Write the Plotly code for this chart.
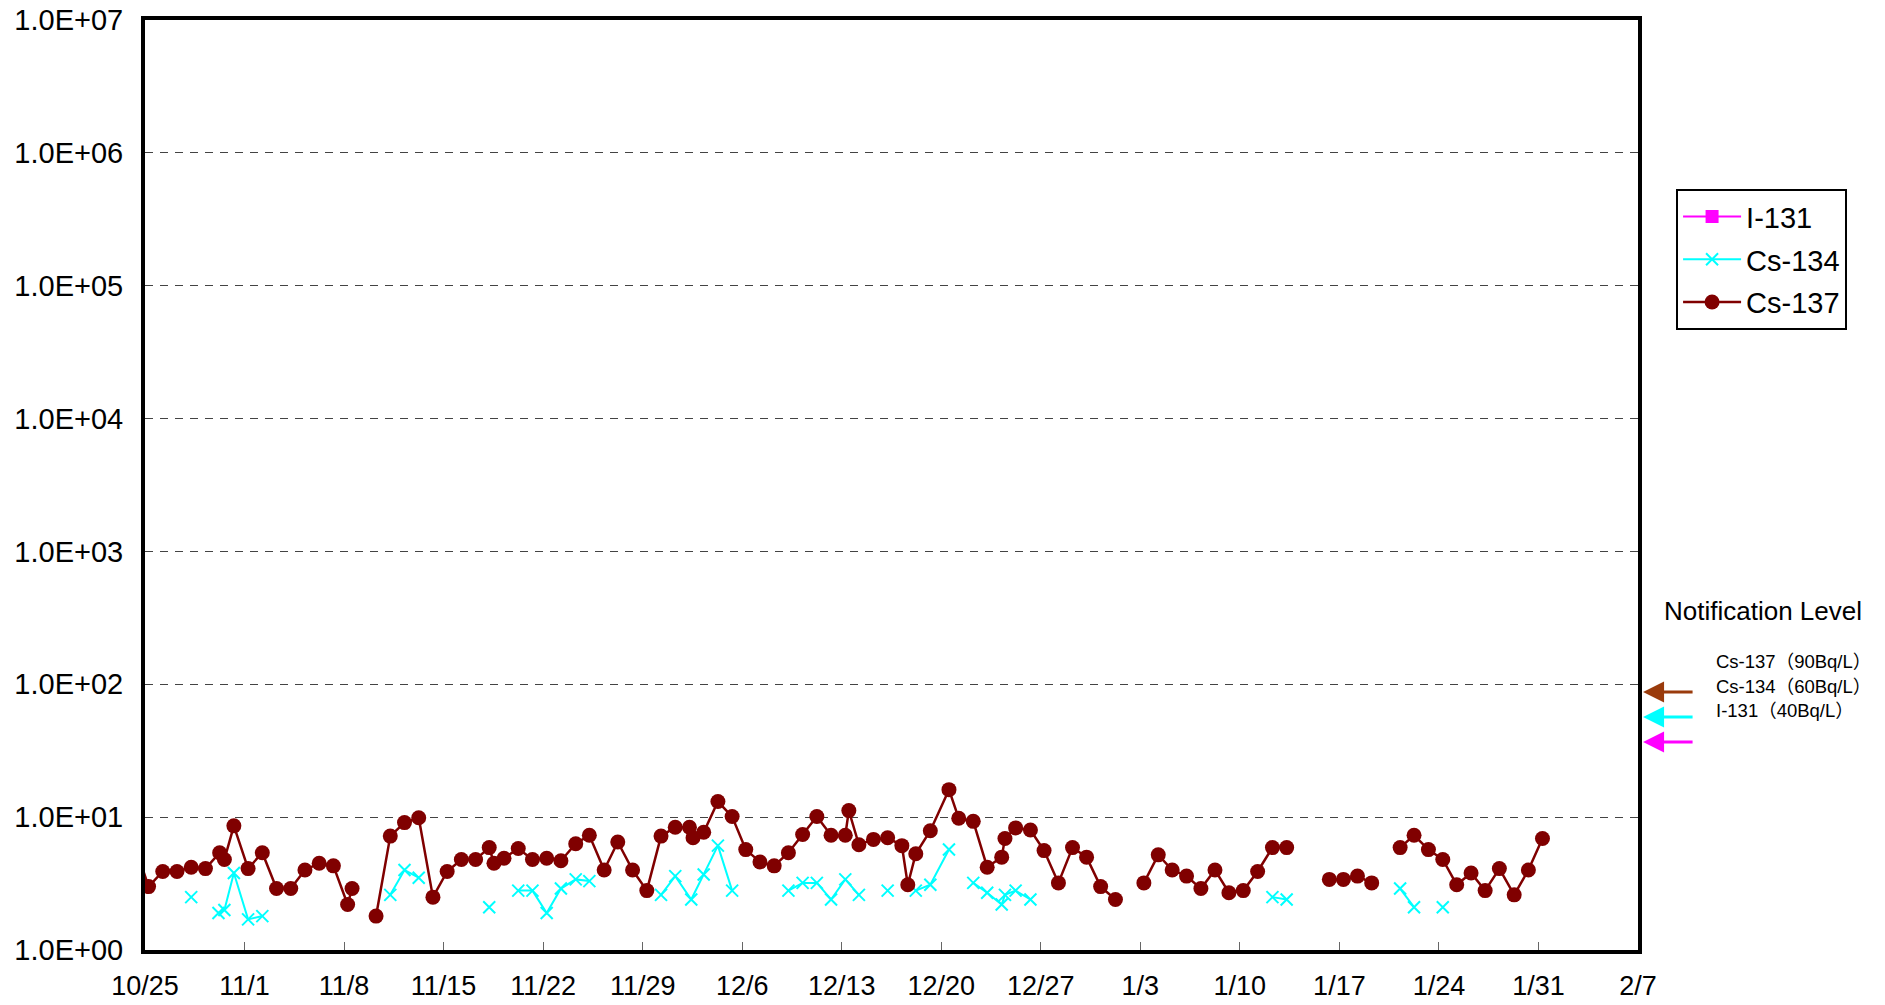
import plotly.graph_objects as go

# ---- data ----
cs137_dates = [
    "2013-10-24 06:00", "2013-10-25 06:00", "2013-10-26 06:00", "2013-10-27 06:00", "2013-10-28 06:00",
    "2013-10-29 06:00", "2013-10-30 06:00", "2013-10-30 14:00", "2013-10-31 06:00", "2013-11-01 06:00",
    "2013-11-02 06:00", "2013-11-03 06:00", "2013-11-04 06:00", "2013-11-05 06:00", "2013-11-06 06:00",
    "2013-11-07 06:00", "2013-11-08 06:00", "2013-11-08 13:30", "2013-11-09 06:00", "2013-11-10 06:00",
    "2013-11-11 06:00", "2013-11-12 06:00", "2013-11-13 06:00", "2013-11-14 06:00", "2013-11-15 06:00",
    "2013-11-16 06:00", "2013-11-17 06:00", "2013-11-18 05:00", "2013-11-18 13:00", "2013-11-19 06:00",
    "2013-11-20 06:00", "2013-11-21 06:00", "2013-11-22 06:00", "2013-11-23 06:00", "2013-11-24 07:00",
    "2013-11-25 06:00", "2013-11-26 07:00", "2013-11-27 06:00", "2013-11-28 07:00", "2013-11-29 07:00",
    "2013-11-30 07:00", "2013-12-01 07:00", "2013-12-02 07:00", "2013-12-02 13:00", "2013-12-03 07:00",
    "2013-12-04 07:00", "2013-12-05 07:00", "2013-12-06 06:00", "2013-12-07 06:00", "2013-12-08 06:00",
    "2013-12-09 06:00", "2013-12-10 06:00", "2013-12-11 06:00", "2013-12-12 06:00", "2013-12-13 06:00",
    "2013-12-13 12:00", "2013-12-14 05:00", "2013-12-15 05:30", "2013-12-16 05:30", "2013-12-17 05:30",
    "2013-12-17 15:30", "2013-12-18 05:00", "2013-12-19 05:30", "2013-12-20 13:00", "2013-12-21 05:30",
    "2013-12-22 06:00", "2013-12-23 05:30", "2013-12-24 06:00", "2013-12-24 11:30", "2013-12-25 05:30",
    "2013-12-26 06:30", "2013-12-27 05:30", "2013-12-28 05:45", "2013-12-29 05:30", "2013-12-30 05:15",
    "2013-12-31 05:00", "2014-01-01 06:00", "2014-01-02 06:00", "2014-01-03 06:00", "2014-01-04 06:15",
    "2014-01-05 05:45", "2014-01-06 06:00", "2014-01-07 06:15", "2014-01-08 06:00", "2014-01-09 05:30",
    "2014-01-10 05:45", "2014-01-11 06:00", "2014-01-12 07:00", "2014-01-13 07:00", "2014-01-14 06:00",
    "2014-01-16 07:00", "2014-01-17 06:45", "2014-01-18 06:30", "2014-01-19 06:30", "2014-01-20 06:00",
    "2014-01-21 06:30", "2014-01-22 06:00", "2014-01-23 06:15", "2014-01-24 06:30", "2014-01-25 06:00",
    "2014-01-26 06:15", "2014-01-27 06:00", "2014-01-28 06:00", "2014-01-29 07:00", "2014-01-30 07:00",
    "2014-01-31 06:45",
]
cs137_values = [
    6.3, 3.0, 3.9, 3.9, 4.2,
    4.1, 5.4, 4.8, 8.6, 4.1,
    5.4, 2.9, 2.9, 4.0, 4.5,
    4.3, 2.2, 2.9, None, 1.8,
    7.2, 9.1, 9.9, 2.5, 3.9,
    4.8, 4.8, 5.9, 4.5, 4.9,
    5.8, 4.8, 4.9, 4.7, 6.3,
    7.3, 4.0, 6.5, 4.0, 2.8,
    7.2, 8.4, 8.4, 7.0, 7.7,
    13.1, 10.1, 5.7, 4.6, 4.3,
    5.4, 7.4, 10.1, 7.3, 7.3,
    11.2, 6.2, 6.8, 7.0, 6.1,
    3.1, 5.3, 7.9, 16.1, 9.8,
    9.3, 4.2, 5.0, 6.9, 8.3,
    8.0, 5.6, 3.2, 5.9, 5.0,
    3.0, 2.4, None, 3.2, 5.2,
    4.0, 3.6, 2.9, 4.0, 2.7,
    2.8, 3.9, 5.9, 5.9, None,
    3.4, 3.4, 3.6, 3.2, None,
    5.9, 7.3, 5.7, 4.8, 3.1,
    3.8, 2.8, 4.1, 2.6, 4.0,
    6.9,
]

cs134_dates = [
    "2013-10-28 06:00", "2013-10-29 06:00",
    "2013-10-30 04:00", "2013-10-30 14:00", "2013-10-31 06:00", "2013-11-01 06:00", "2013-11-02 06:00", "2013-11-03 06:00",
    "2013-11-11 06:00", "2013-11-12 06:00", "2013-11-13 06:00", "2013-11-14 06:00",
    "2013-11-18 05:00", "2013-11-19 06:00",
    "2013-11-20 06:00", "2013-11-21 06:00", "2013-11-22 06:00", "2013-11-23 06:00", "2013-11-24 07:00", "2013-11-25 06:00", "2013-11-26 06:00",
    "2013-11-30 07:00", "2013-12-01 07:00", "2013-12-02 10:00", "2013-12-03 07:00", "2013-12-04 07:00", "2013-12-05 07:00", "2013-12-06 06:00",
    "2013-12-09 06:00", "2013-12-10 06:00", "2013-12-11 06:00", "2013-12-12 06:00", "2013-12-13 06:00", "2013-12-14 05:00", "2013-12-15 06:00",
    "2013-12-16 05:30", "2013-12-17 06:00",
    "2013-12-18 05:00", "2013-12-19 05:30", "2013-12-20 13:00", "2013-12-21 06:00",
    "2013-12-22 06:00", "2013-12-23 05:30", "2013-12-24 06:00", "2013-12-24 11:30", "2013-12-25 05:30", "2013-12-26 06:30", "2013-12-27 06:00",
    "2014-01-12 07:00", "2014-01-13 07:00", "2014-01-14 06:00",
    "2014-01-21 06:30", "2014-01-22 06:00", "2014-01-23 06:00",
    "2014-01-24 06:30",
]
cs134_values = [
    2.5, None,
    1.9, 2.0, 3.8, 1.7, 1.8, None,
    2.6, 4.0, 3.5, None,
    2.1, None,
    2.8, 2.8, 1.9, 2.9, 3.4, 3.3, None,
    2.6, 3.6, 2.4, 3.7, 6.1, 2.8, None,
    2.8, 3.2, 3.2, 2.4, 3.4, 2.6, None,
    2.8, None,
    2.8, 3.1, 5.7, None,
    3.2, 2.7, 2.2, 2.6, 2.8, 2.4, None,
    2.5, 2.4, None,
    2.9, 2.1, None,
    2.1,
]

i131_dates = ["2013-10-25 06:00"]
i131_values = [None]  # all below detection limit

level_labels = ["Cs-137（90Bq/L）", "Cs-134（60Bq/L）", "I-131（40Bq/L）"]
level_colors = ["#9A3B0C", "#00FFFF", "#FF00FF"]

y_tick_vals = [1, 10, 100, 1000, 10000, 100000, 1000000, 10000000]
y_tick_text = ["1.0E+00", "1.0E+01", "1.0E+02", "1.0E+03", "1.0E+04", "1.0E+05", "1.0E+06", "1.0E+07"]

FONT = "Liberation Sans, Arial, Noto Sans CJK JP, sans-serif"

fig = go.Figure()
fig.add_trace(go.Scatter(
    x=i131_dates, y=i131_values, name="I-131", mode="lines+markers",
    line=dict(color="#FF00FF", width=2),
    marker=dict(symbol="square", size=13, color="#FF00FF"),
    legendgroup="a",
))
fig.add_trace(go.Scatter(
    x=cs134_dates, y=cs134_values, name="Cs-134", mode="lines+markers",
    line=dict(color="#00FFFF", width=2),
    marker=dict(symbol="x-thin", size=12, line=dict(color="#00FFFF", width=2)),
    connectgaps=False, legendgroup="b",
))
fig.add_trace(go.Scatter(
    x=cs137_dates, y=cs137_values, name="Cs-137", mode="lines+markers",
    line=dict(color="#800000", width=2.5),
    marker=dict(symbol="circle", size=15, color="#800000"),
    connectgaps=False, legendgroup="c",
))

# the page body has an 8px margin, so the figure sits at (8, 8)
fig.update_layout(
    width=1885, height=1005,
    margin=dict(l=137, r=255, t=12, b=63, autoexpand=False),
    paper_bgcolor="white", plot_bgcolor="white",
    font=dict(family=FONT, color="black"),
    showlegend=True,
    legend=dict(
        x=1.0255, y=0.818, xanchor="left", yanchor="top",
        bordercolor="black", borderwidth=2, bgcolor="white",
        font=dict(size=29, family=FONT), tracegroupgap=2, itemwidth=58,
    ),
)
fig.update_xaxes(
    type="date", automargin=False, ticklabeloverflow="allow",
    range=["2013-10-25", "2014-02-07"],
    tick0="2013-10-25", dtick=7 * 86400000, tickformat="%-m/%-d",
    ticks="inside", ticklen=8, tickcolor="#666666", tickwidth=1,
    showgrid=False, zeroline=False,
    showline=True, linecolor="black", linewidth=4, mirror=True,
    tickfont=dict(size=27), ticklabelstandoff=9,
)
fig.update_yaxes(
    type="log", range=[0, 7], automargin=False, ticklabeloverflow="allow",
    tickvals=y_tick_vals, ticktext=y_tick_text,
    ticks="", showgrid=True, gridcolor="#444444", gridwidth=1, griddash="8px,7px",
    zeroline=False,
    showline=True, linecolor="black", linewidth=4, mirror=True,
    tickfont=dict(size=29), ticklabelstandoff=12,
)

# Notification level panel (positions in page pixels, plot area spans y 20..950)
fig.add_annotation(
    x=1.0837, y=0.3645, xref="paper", yref="paper", text="Notification Level",
    showarrow=False, font=dict(size=26, family=FONT), xanchor="center", yanchor="middle",
)
label_y_px = [661, 686, 710]
for lab, ypx in zip(level_labels, label_y_px):
    fig.add_annotation(
        x=1.0509, y=(950 - ypx) / 930, xref="paper", yref="paper", text=lab,
        showarrow=False, font=dict(size=18.5, family=FONT), xanchor="left", yanchor="middle",
    )
arrow_y_px = [692, 717, 742]
for ypx, col in zip(arrow_y_px, level_colors):
    fig.add_annotation(
        x=1.0034, y=(950 - ypx) / 930, xref="paper", yref="paper", text="",
        showarrow=True, ax=51, ay=0, arrowhead=2, arrowsize=1.4, arrowwidth=3,
        arrowcolor=col, standoff=0,
    )

fig.write_html("out.html")
